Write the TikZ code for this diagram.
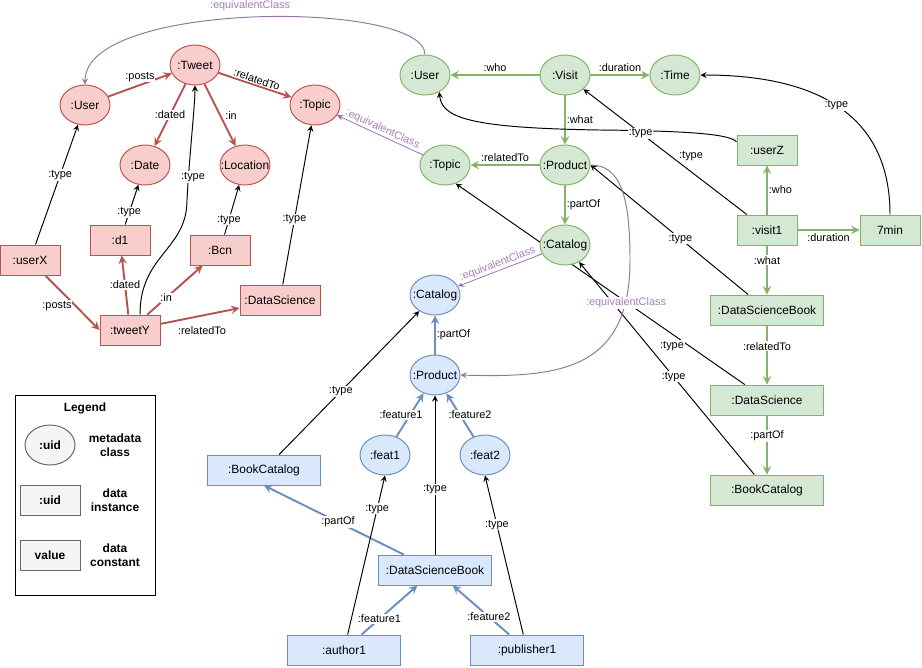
\documentclass[tikz,border=0pt]{standalone}
\usepackage{fontspec}
\setmainfont{Liberation Sans}
\usepackage{tikz}
\usetikzlibrary{arrows,shapes,positioning,backgrounds}
\usepackage{color}

\definecolor{redfill}{HTML}{F8CECC}
\definecolor{redline}{HTML}{B85450}
\definecolor{greenfill}{HTML}{D5E8D4}
\definecolor{greenline}{HTML}{82B366}
\definecolor{bluefill}{HTML}{DAE8FC}
\definecolor{blueline}{HTML}{6C8EBF}
\definecolor{purpleline}{HTML}{9673A6}
\definecolor{purpletext}{HTML}{A680B8}
\definecolor{grayfill}{HTML}{F5F5F5}
\definecolor{grayline}{HTML}{666666}

\tikzset{
  cls/.style={ellipse, draw, line width=0.55pt, minimum width=1cm, minimum height=0.8cm, inner xsep=-4pt, inner ysep=0pt, font=\fontsize{6.8}{8}\selectfont},
  inst/.style={rectangle, draw, line width=0.55pt, minimum width=1.2cm, minimum height=0.6cm, inner sep=0pt, font=\fontsize{6.8}{8}\selectfont},
  wide/.style={minimum width=2.26cm},
  redcls/.style={cls, fill=redfill, draw=redline},
  redinst/.style={inst, fill=redfill, draw=redline},
  greencls/.style={cls, fill=greenfill, draw=greenline},
  greeninst/.style={inst, fill=greenfill, draw=greenline},
  bluecls/.style={cls, fill=bluefill, draw=blueline},
  blueinst/.style={inst, fill=bluefill, draw=blueline},
  legcls/.style={cls, fill=grayfill, draw=grayline, font=\fontsize{6.8}{8}\selectfont\bfseries},
  leginst/.style={inst, fill=grayfill, draw=grayline, font=\fontsize{6.8}{8}\selectfont\bfseries},
  legtxt/.style={align=center, font=\fontsize{6.8}{8}\selectfont\bfseries},
  lbl/.style={fill=white, inner sep=0.5pt, font=\fontsize{6.2}{7}\selectfont},
  eqlbl/.style={lbl, text=purpletext},
  redarr/.style={draw=redline, line width=1.1pt, -stealth},
  greenarr/.style={draw=greenline, line width=1.1pt, -stealth},
  bluearr/.style={draw=blueline, line width=1.1pt, -stealth},
  typearr/.style={line width=0.55pt, -stealth},
  equiv/.style={draw=purpleline, line width=0.55pt, -stealth}
}

\begin{document}
\begin{tikzpicture}[x=0.02cm, y=-0.02cm]
\useasboundingbox (0,0) rectangle (922,667);

% tweets
\node[redcls] (ruser) at (85,105) {:User};
\node[redcls] (rtweet) at (195,65) {:Tweet};
\node[redcls] (rtopic) at (315,105) {:Topic};
\node[redcls] (rdate) at (145,165) {:Date};
\node[redcls] (rloc) at (245,165) {:Location};
\node[redinst] (ruserx) at (30,260) {:userX};
\node[redinst] (rd1) at (120,240) {:d1};
\node[redinst] (rbcn) at (220,250) {:Bcn};
\node[redinst, minimum width=1.6cm] (rdatasci) at (280,300) {:DataScience};
\node[redinst] (rtweety) at (130,330) {:tweetY};

% visits
\node[greencls] (guser) at (425,75) {:User};
\node[greencls] (gvisit) at (565,75) {:Visit};
\node[greencls] (gtime) at (675,75) {:Time};
\node[greencls] (gtopic) at (445,165) {:Topic};
\node[greencls] (gproduct) at (565,165) {:Product};
\node[greencls] (gcatalog) at (565,245) {:Catalog};
\node[greeninst] (guserz) at (767,150) {:userZ};
\node[greeninst] (gvisit1) at (767,230) {:visit1};
\node[greeninst] (gseven) at (890,230) {7min};
\node[greeninst, wide] (gdsbook) at (767,310) {:DataScienceBook};
\node[greeninst, wide] (gdatasci) at (767,400) {:DataScience};
\node[greeninst, wide] (gbookcat) at (767,490) {:BookCatalog};

% books
\node[bluecls] (bcatalog) at (435,295) {:Catalog};
\node[bluecls] (bproduct) at (435,375) {:Product};
\node[bluecls] (bfeat1) at (385,455) {:feat1};
\node[bluecls] (bfeat2) at (485,455) {:feat2};
\node[blueinst, wide] (bbookcat) at (264,470) {:BookCatalog};
\node[blueinst, wide] (bdsbook) at (435,570) {:DataScienceBook};
\node[blueinst, wide] (bauthor) at (344,650) {:author1};
\node[blueinst, wide] (bpublisher) at (527,650) {:publisher1};

% legend
\node[draw, line width=0.55pt, minimum width=2.8cm, minimum height=4cm] (legbox) at (85,495) {};
\node[legtxt] (legtitle) at (85,408) {Legend};
\node[legcls] (legclass) at (50,445) {:uid};
\node[legtxt] (legclasstxt) at (115,445) {metadata\\class};
\node[leginst] (leginstance) at (50,500) {:uid};
\node[legtxt] (leginstancetxt) at (115,500) {data\\instance};
\node[leginst] (legconst) at (50,555) {value};
\node[legtxt] (legconsttxt) at (115,555) {data\\constant};

\begin{pgfonlayer}{background}
% % % % % % % % % % % % % % % % % % % % % % % % % %
\draw[redarr] (ruser) -- node[lbl, above=1pt] {:posts} (rtweet);
\draw[redarr] (rtweet) -- node[lbl] {:dated} (rdate);
\draw[redarr] (rtweet) -- (rloc) node[lbl] at (231,116) {:in};
\draw[redarr] (rtweet) -- node[lbl, sloped, above] {:relatedTo} (rtopic);
\draw[redarr] (ruserx) -- (rtweety.west) node[lbl] at (57,306) {:posts};
\draw[redarr] (rtweety) -- node[lbl] {:dated} (rd1);
\draw[redarr] (rtweety) -- node[lbl, pos=.34] {:in} (rbcn);
\draw[redarr] (rtweety) -- (rdatasci) node[lbl] at (202,331) {:relatedTo};

\draw[typearr] (ruserx) -- node[lbl, pos=.58] {:type} (ruser);
\draw[typearr] (rd1) -- node[lbl, pos=.3] {:type} (rdate);
\draw[typearr] (rbcn) -- node[lbl, pos=.3] {:type} (rloc);
\draw[typearr] (rdatasci) -- node[lbl, pos=.41] {:type} (rtopic);
\draw[typearr] ([xshift=0.2cm]rtweety.north) .. controls +(0,-60) and +(0,50) .. (187,200) .. controls +(2,-40) and +(0,40) .. (rtweet) node[lbl] at (193,177) {:type};

% % % % % % % % % % % % % % % % % % % % % % % % % %
\draw[greenarr] (gvisit) -- node[lbl, above=1pt] {:who} (guser);
\draw[greenarr] (gvisit) -- node[lbl, above=1pt] {:duration} (gtime);
\draw[greenarr] (gvisit) -- node[lbl, right] {:what} (gproduct);
\draw[greenarr] (gproduct) -- node[lbl, above=1pt] {:relatedTo} (gtopic);
\draw[greenarr] (gproduct) -- node[lbl, right] {:partOf} (gcatalog);
\draw[greenarr] (gvisit1) -- node[lbl, right] {:who} (guserz);
\draw[greenarr] (gvisit1) -- node[lbl, below=1pt] {:duration} (gseven);
\draw[greenarr] (gvisit1) -- node[lbl, pos=.3] {:what} (gdsbook);
\draw[greenarr] (gdsbook) -- node[lbl, pos=.35] {:relatedTo} (gdatasci);
\draw[greenarr] (gdatasci) -- node[lbl, pos=.35] {:partOf} (gbookcat);

\draw[typearr] (guserz.165) .. controls (730,135) and (700,131) .. (600,130) .. controls (470,128) and (442,118) .. (guser.-50) node[lbl] at (691,156) {:type};
\draw[typearr] (gvisit1) -- node[lbl, pos=.65] {:type} (gvisit);
\draw[typearr] (gseven.north) .. controls (890,110) and (810,75) .. node[lbl] {:type} (gtime.east);
\draw[typearr] (gdsbook) -- node[lbl, pos=.43] {:type} (gproduct.east);
\draw[typearr] (gdatasci) -- (gtopic.-60) node[lbl] at (672,346) {:type};
\draw[typearr] (gbookcat) -- node[lbl, pos=.46] {:type} (gcatalog);

% % % % % % % % % % % % % % % % % % % % % % % % % %
\draw[bluearr] (bproduct) -- node[lbl, right] {:partOf} (bcatalog);
\draw[bluearr] (bfeat1) -- (bproduct) node[lbl] at (401,415) {:feature1};
\draw[bluearr] (bfeat2) -- (bproduct) node[lbl] at (470,415) {:feature2};
\draw[bluearr] (bdsbook) -- node[lbl, pos=.47] {:partOf} (bbookcat.south);
\draw[bluearr] (bauthor) -- node[lbl, pos=.32] {:feature1} (bdsbook);
\draw[bluearr] (bpublisher) -- node[lbl, pos=.36] {:feature2} (bdsbook);

\draw[typearr] (bbookcat) -- node[lbl, pos=.44] {:type} (bcatalog);
\draw[typearr] (bdsbook) -- node[lbl, pos=.41] {:type} (bproduct);
\draw[typearr] (bauthor) -- node[lbl, pos=.79] {:type} (bfeat1.south);
\draw[typearr] (bpublisher) -- node[lbl, pos=.69] {:type} (bfeat2.south);

% % % % % % % % % % % % % % % % % % % % % % % % % %
\draw[equiv] (guser.north) .. controls (425,0) and (85,0) .. (ruser.north) node[eqlbl] at (250,6) {:equivalentClass};
\draw[equiv] (gtopic) -- node[eqlbl, sloped, above] {:equivalentClass} (rtopic);
\draw[equiv] (gcatalog) -- node[eqlbl, sloped, above] {:equivalentClass} (bcatalog);
\draw[equiv] (gproduct.east) .. controls (620,165) and (630,195) .. (630,260) .. controls (630,370) and (560,378) .. (bproduct.east) node[eqlbl] at (626,303) {:equivalentClass};
\end{pgfonlayer}
\end{tikzpicture}
\end{document}
